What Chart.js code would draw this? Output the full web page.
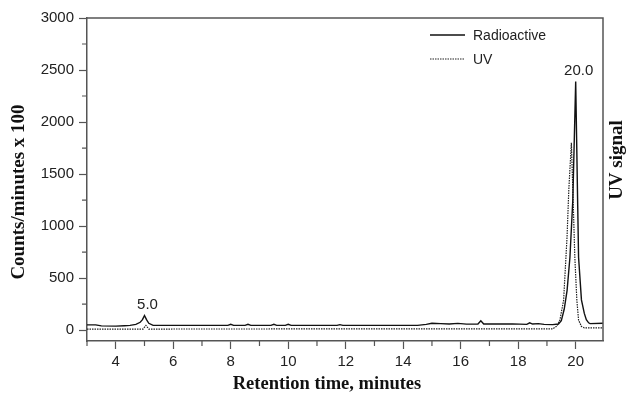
<!DOCTYPE html>
<html>
<head>
<meta charset="utf-8">
<script src="https://cdn.jsdelivr.net/npm/chart.js@4.4.1/dist/chart.umd.min.js"></script>
<style>
  html, body { margin: 0; padding: 0; background: #fff; }
</style>
</head>
<body>
<canvas id="chart" width="627" height="395"></canvas>
<script>
// retention time (min) and counts/minutes x 100, radioactive trace
const radTimes = [3.0, 3.3, 3.5, 4.0, 4.3, 4.5, 4.7, 4.85, 4.93, 5.0, 5.07, 5.15, 5.3, 6.0,
  7.9, 8.0, 8.1, 8.5, 8.6, 8.7, 9.4, 9.5, 9.6, 9.9, 10.0, 10.1, 11.7, 11.8, 11.9,
  14.5, 14.8, 15.0, 15.3, 15.6, 15.9, 16.2, 16.6, 16.7, 16.8, 17.3, 17.8, 18.3, 18.4,
  18.5, 18.7, 18.9, 19.2, 19.4, 19.5, 19.6, 19.7, 19.8, 19.9, 20.0, 20.07, 20.1, 20.2,
  20.3, 20.37, 20.45, 20.5, 20.95];
const radCounts = [50, 50, 40, 38, 42, 45, 55, 75, 100, 140, 100, 65, 45, 45,
  45, 55, 45, 45, 55, 45, 45, 55, 45, 45, 55, 45, 45, 52, 45,
  45, 55, 65, 62, 58, 64, 57, 58, 90, 58, 58, 60, 55, 70,
  58, 62, 55, 52, 58, 90, 200, 380, 700, 1250, 2390, 1200, 700, 290,
  160, 100, 70, 62, 65];

// UV trace (same axis units)
const uvTimes = [3.0, 4.95, 5.05, 5.15, 19.2, 19.35, 19.45, 19.58, 19.7, 19.76, 19.85,
  19.9, 19.97, 20.04, 20.1, 20.2, 20.3, 20.95];
const uvSignal = [10, 10, 45, 10, 12, 40, 96, 288, 900, 1346, 1800,
  1346, 700, 288, 96, 35, 22, 22];

const peakTimes = [5.0, 20.0];
const xTitle = "Retention time, minutes";
const yTitle = "Counts/minutes x 100";
const y2Title = "UV signal";

const frameColor = "#555";
const tickFont = { family: "'Liberation Sans', Arial, sans-serif", size: 15 };
const serif = "'Liberation Serif', 'Times New Roman', serif";

const toPoints = (xs, ys) => xs.map((x, i) => ({ x: x, y: ys[i] }));

const decorations = {
  id: "decorations",
  afterDraw(chart) {
    const { ctx, chartArea: a, scales } = chart;
    const xs = scales.x, ys = scales.y;
    ctx.save();
    // frame top + right
    ctx.strokeStyle = frameColor;
    ctx.lineWidth = 1.5;
    ctx.beginPath();
    ctx.moveTo(a.left, a.top);
    ctx.lineTo(a.right, a.top);
    ctx.lineTo(a.right, a.bottom);
    ctx.stroke();

    // minor ticks
    ctx.lineWidth = 1.2;
    ctx.beginPath();
    xs.ticks.forEach(t => {
      if (t.value % 2 !== 0) {
        const px = xs.getPixelForValue(t.value);
        ctx.moveTo(px, a.bottom);
        ctx.lineTo(px, a.bottom + 5);
      }
    });
    ys.ticks.forEach(t => {
      if (t.value % 500 !== 0) {
        const py = ys.getPixelForValue(t.value);
        ctx.moveTo(a.left, py);
        ctx.lineTo(a.left - 5, py);
      }
    });
    ctx.stroke();

    // peak labels
    ctx.fillStyle = "#222";
    ctx.font = "15px 'Liberation Sans', Arial, sans-serif";
    ctx.textAlign = "center";
    ctx.textBaseline = "bottom";
    peakTimes.forEach(pt => {
      const i = radTimes.indexOf(pt);
      const px = xs.getPixelForValue(pt);
      const py = ys.getPixelForValue(radCounts[i]);
      ctx.fillText(pt.toFixed(1), px + 3, py - 3);
    });

    // legend inside plot
    ctx.textAlign = "left";
    ctx.textBaseline = "middle";
    ctx.font = "14px 'Liberation Sans', Arial, sans-serif";
    chart.data.datasets.forEach((ds, i) => {
      const ly = a.top + 17 + i * 24;
      ctx.strokeStyle = ds.borderColor;
      ctx.lineWidth = ds.borderWidth;
      ctx.setLineDash(ds.borderDash || []);
      ctx.beginPath();
      ctx.moveTo(430, ly);
      ctx.lineTo(465, ly);
      ctx.stroke();
      ctx.setLineDash([]);
      ctx.fillStyle = "#222";
      ctx.fillText(ds.label, 473, ly + 1);
    });

    // axis titles
    ctx.fillStyle = "#111";
    ctx.textAlign = "center";
    ctx.font = "bold 18.5px " + serif;
    ctx.fillText(xTitle, 327, 384);
    ctx.save();
    ctx.font = "bold 19px " + serif;
    ctx.translate(19, 192);
    ctx.rotate(-Math.PI / 2);
    ctx.fillText(yTitle, 0, 0);
    ctx.restore();
    ctx.save();
    ctx.font = "bold 19px " + serif;
    ctx.translate(617, 160);
    ctx.rotate(-Math.PI / 2);
    ctx.fillText(y2Title, 0, 0);
    ctx.restore();
    ctx.restore();
  }
};

new Chart(document.getElementById("chart").getContext("2d"), {
  type: "line",
  data: {
    datasets: [
      {
        label: "Radioactive",
        data: toPoints(radTimes, radCounts),
        borderColor: "#111",
        borderWidth: 1.4,
        pointRadius: 0,
        tension: 0,
        fill: false,
      },
      {
        label: "UV",
        data: toPoints(uvTimes, uvSignal),
        borderColor: "#222",
        borderWidth: 1.2,
        borderDash: [1.5, 1],
        pointRadius: 0,
        tension: 0,
        fill: false,
      },
    ],
  },
  options: {
    responsive: false,
    animation: false,
    layout: { padding: { top: 18, left: 0, right: 0, bottom: 0 } },
    plugins: {
      legend: { display: false },
      tooltip: { enabled: false },
    },
    scales: {
      x: {
        type: "linear",
        min: 3,
        max: 20.95,
        afterFit: s => { s.height = 54; },
        ticks: {
          stepSize: 1,
          autoSkip: false,
          includeBounds: false,
          maxRotation: 0,
          padding: 4,
          font: tickFont,
          color: "#222",
          callback: v => (v % 2 === 0 ? v : ""),
        },
        grid: {
          drawOnChartArea: false,
          tickLength: 8,
          tickWidth: 1.2,
          tickColor: c => (c.tick && c.tick.value % 2 === 0 ? frameColor : "rgba(0,0,0,0)"),
        },
        border: { color: frameColor, width: 1.5 },
      },
      y: {
        min: -105,
        max: 3000,
        afterFit: s => { s.width = 87; },
        ticks: {
          stepSize: 250,
          autoSkip: false,
          includeBounds: false,
          padding: 5,
          font: tickFont,
          color: "#222",
          callback: v => (v % 500 === 0 ? v : ""),
        },
        grid: {
          drawOnChartArea: false,
          tickLength: 8,
          tickWidth: 1.2,
          tickColor: c => (c.tick && c.tick.value % 500 === 0 ? frameColor : "rgba(0,0,0,0)"),
        },
        border: { color: frameColor, width: 1.5 },
      },
      y2: {
        position: "right",
        min: -105,
        max: 3000,
        afterFit: s => { s.width = 24; },
        ticks: { display: false },
        grid: { display: false },
        border: { display: false },
      },
    },
  },
  plugins: [decorations],
});
</script>
</body>
</html>
